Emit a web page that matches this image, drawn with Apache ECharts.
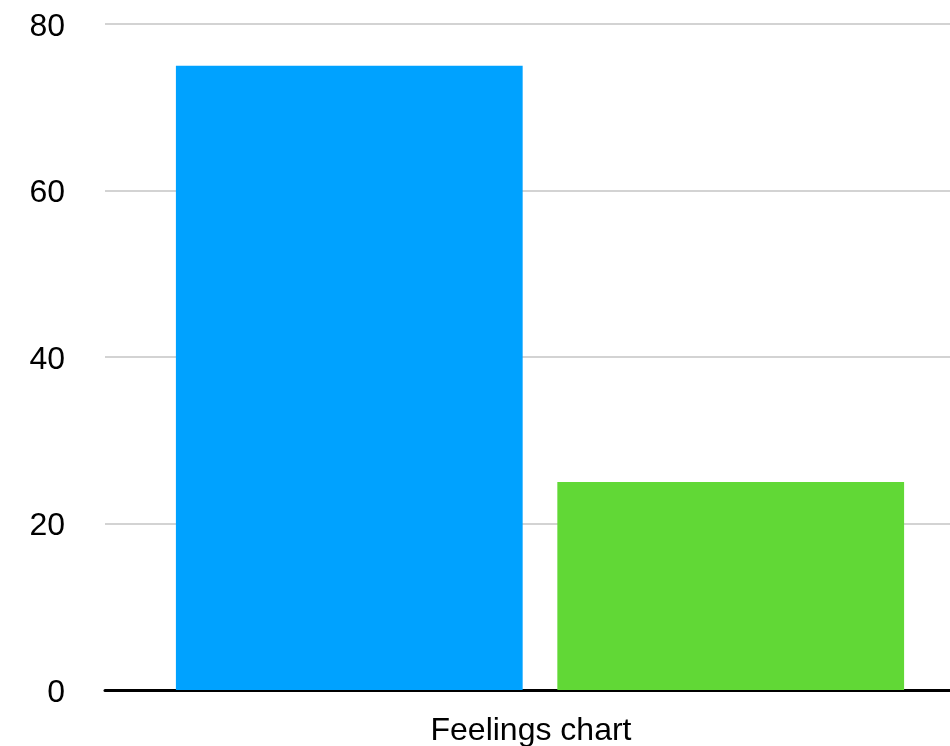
<!DOCTYPE html>
<html>
<head>
<meta charset="utf-8">
<script src="https://cdn.jsdelivr.net/npm/echarts@6/dist/echarts.min.js"></script>
<style>
html,body{margin:0;padding:0;background:#fff;}
#chart{width:950px;height:746px;}
</style>
</head>
<body>
<div id="chart"></div>
<script>
var categories = ["Feelings chart"];
var seriesNames = ["Series 1", "Series 2"];
var seriesA = [75];
var seriesB = [25];
var yTicks = [0, 20, 40, 60, 80];

var chart = echarts.init(document.getElementById('chart'), null, {renderer: 'canvas'});
chart.setOption({
  animation: false,
  backgroundColor: '#ffffff',
  grid: {left: 105, width: 870, top: 24, bottom: 56, containLabel: false, outerBoundsMode: 'none'},
  xAxis: {
    type: 'category',
    data: categories,
    axisLine: {show: true, lineStyle: {color: '#000', width: 3}},
    axisTick: {show: false},
    axisLabel: {
      fontFamily: 'Liberation Sans, Arial, sans-serif',
      fontSize: 32, color: '#000', margin: 25,
      padding: [0, 18, 0, 0]
    }
  },
  yAxis: {
    type: 'value',
    min: yTicks[0], max: yTicks[yTicks.length - 1], interval: 20,
    axisLine: {show: false},
    axisTick: {show: false},
    splitLine: {lineStyle: {color: '#c4c4c4', width: 1.5}},
    axisLabel: {
      color: '#000', margin: 40,
      formatter: '{a|{value}}',
      rich: {a: {fontFamily: 'Liberation Sans, Arial, sans-serif', fontSize: 32, color: '#000', padding: [6, 0, 0, 0]}}
    }
  },
  series: [
    {name: seriesNames[0], type: 'bar', data: seriesA, itemStyle: {color: '#00A2FF'},
     barGap: '10%', barCategoryGap: '16.3%'},
    {name: seriesNames[1], type: 'bar', data: seriesB, itemStyle: {color: '#61D836'},
     barGap: '10%', barCategoryGap: '16.3%'}
  ]
});
</script>
</body>
</html>
